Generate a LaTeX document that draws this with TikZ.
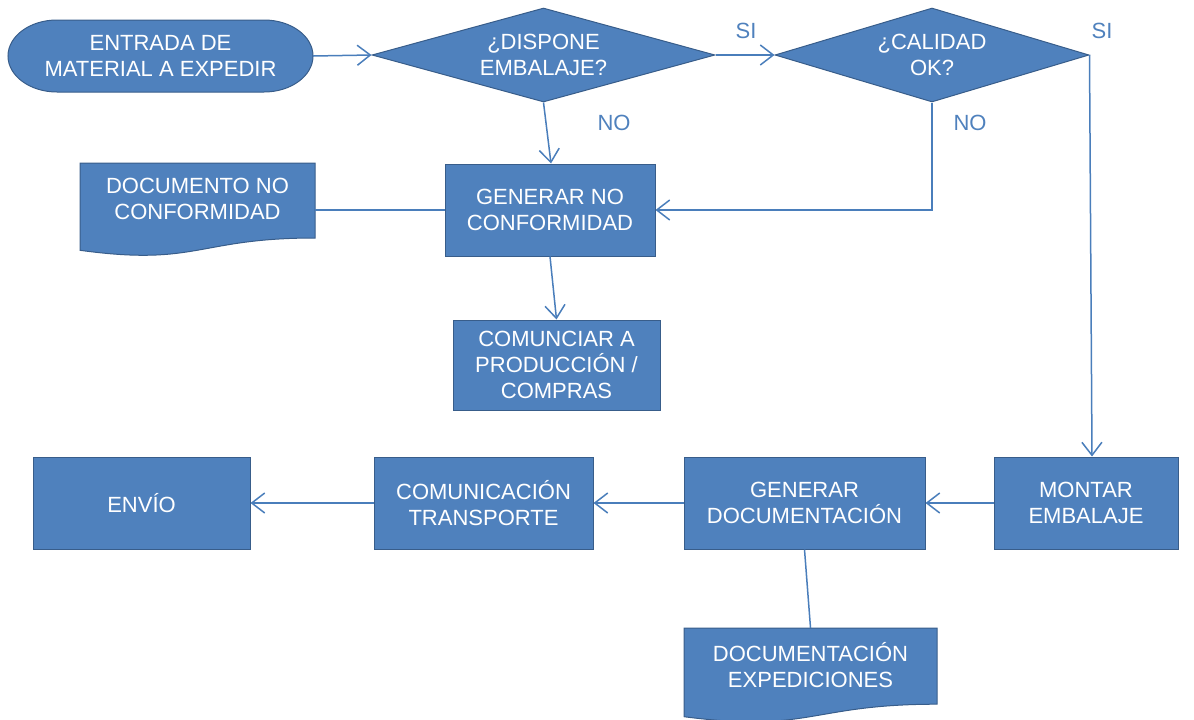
\documentclass[tikz,border=0pt]{standalone}
\usepackage{fontspec}
\setmainfont{Liberation Sans}
\usetikzlibrary{shapes.geometric,arrows.meta,calc}

\definecolor{boxblue}{HTML}{4F81BD}
\definecolor{boxedge}{HTML}{385D8A}
\definecolor{linkblue}{HTML}{4A7EBB}
\definecolor{tagblue}{HTML}{4F81BD}
\newcommand\flowfont{\fontsize{22}{26}\selectfont}

\begin{document}
\begin{tikzpicture}[x=1pt,y=-1pt,
  paint/.style={fill=boxblue, draw=boxedge, line width=1pt},
  boxtext/.style={text=white, align=center, font=\flowfont, inner sep=0pt},
  process/.style={paint, boxtext, rectangle},
  decision/.style={paint, boxtext, diamond},
  holder/.style={boxtext, rectangle},
  conn/.style={draw=linkblue, line width=1.5pt},
  flow/.style={conn, -{Straight Barb[length=13pt,width=20pt]}},
  tag/.style={text=tagblue, font=\flowfont, inner sep=0pt}
]
\useasboundingbox (0,0) rectangle (1194,720);

% terminator with elliptical ends
\path[paint] (57,20) -- (264,20)
  arc[start angle=-90, end angle=90, x radius=49, y radius=36]
  -- (57,92)
  arc[start angle=90, end angle=270, x radius=49, y radius=36] -- cycle;
\node[holder, minimum width=305, minimum height=72] (start) at (160.5,56)
  {ENTRADA DE\\MATERIAL A EXPEDIR};

% decisions
\node[decision, shape aspect=3.6, minimum width=343, minimum height=94] (dispone) at (543.5,55)
  {¿DISPONE\\EMBALAJE?};
\node[decision, shape aspect=3.3, minimum width=314, minimum height=94] (calidad) at (932,55)
  {¿CALIDAD\\OK?};

% non-conformity branch
\node[process, minimum width=210, minimum height=92] (gennc) at (550,210)
  {GENERAR NO\\CONFORMIDAD};
\path[paint] (80,163) -- (315,163) -- (315,238)
  .. controls (197.5,238) and (197.5,266.5) .. (80,250.3) -- cycle;
\node[holder, minimum width=235, minimum height=72] (docnc) at (197.5,199)
  {DOCUMENTO NO\\CONFORMIDAD};
\node[process, minimum width=207, minimum height=90] (comunicar) at (556.5,365)
  {COMUNCIAR A\\PRODUCCIÓN /\\COMPRAS};

% shipping row
\node[process, minimum width=184, minimum height=92] (montar) at (1086,503)
  {MONTAR\\EMBALAJE};
\node[process, minimum width=241, minimum height=92] (gendoc) at (804.5,503)
  {GENERAR\\DOCUMENTACIÓN};
\node[process, minimum width=219, minimum height=92] (comtrans) at (483.5,503)
  {COMUNICACIÓN\\TRANSPORTE};
\node[process, minimum width=217, minimum height=92] (envio) at (141.5,503)
  {ENVÍO};
\path[paint] (684,628) -- (937,628) -- (937,704.2)
  .. controls (810.5,704.2) and (810.5,733.2) .. (684,716.7) -- cycle;
\node[holder, minimum width=253, minimum height=74] (docexp) at (810.5,665)
  {DOCUMENTACIÓN\\EXPEDICIONES};

% connectors
\draw[flow] (start.east) -- (dispone.west);
\draw[flow] (dispone.east) -- (calidad.west);
\draw[flow] (calidad.east) -- ($(montar.north)+(6,0)$);
\draw[flow] (dispone.south) -- ($(gennc.north)+(1,0)$);
\draw[flow] (calidad.south) |- (gennc.east);
\draw[conn] (gennc.west) -- (gennc.west -| docnc.east);
\draw[flow] (gennc.south) -- (comunicar.north);
\draw[flow] (montar.west) -- (gendoc.east);
\draw[flow] (gendoc.west) -- (comtrans.east);
\draw[flow] (comtrans.west) -- (envio.east);
\draw[conn] (gendoc.south) -- (docexp.north);

% branch labels
\node[tag] (si1) at (746,31) {SI};
\node[tag] (si2) at (1102,31) {SI};
\node[tag] (no1) at (614,123) {NO};
\node[tag] (no2) at (970,123) {NO};
\end{tikzpicture}
\end{document}
